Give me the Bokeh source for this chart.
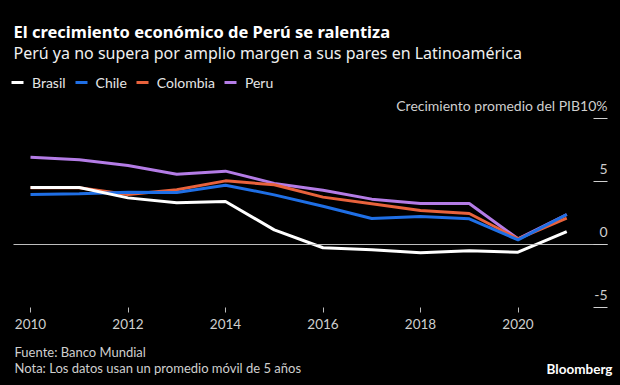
from bokeh.plotting import figure
from bokeh.models import (Range1d, FixedTicker, Label, Legend, LegendItem,
                          CustomJSTickFormatter, LinearAxis)
from bokeh.embed import file_html
from bokeh.resources import INLINE

# ---- data ----
years = [2010, 2011, 2012, 2013, 2014, 2015, 2016, 2017, 2018, 2019, 2020, 2021]
brasil = [4.52, 4.52, 3.70, 3.31, 3.41, 1.16, -0.26, -0.42, -0.66, -0.50, -0.61, 1.03]
chile = [3.97, 4.02, 4.15, 4.13, 4.71, 3.94, 3.04, 2.06, 2.22, 2.04, 0.37, 2.38]
colombia = [4.50, 4.50, 3.97, 4.34, 5.05, 4.74, 3.76, 3.23, 2.70, 2.46, 0.45, 2.09]
peru = [6.93, 6.72, 6.27, 5.58, 5.82, 4.85, 4.31, 3.60, 3.25, 3.25, 0.45, 2.38]

series_names = ["Brasil", "Chile", "Colombia", "Peru"]
series_values = [brasil, chile, colombia, peru]
series_colors = ["#ffffff", "#1f6fe5", "#e8623c", "#b47ce6"]

x_ticks = [2010, 2012, 2014, 2016, 2018, 2020]
y_ticks = [-5, 0, 5, 10]
y_tick_labels = ["-5", "0", "5", "10%"]

title = "El crecimiento económico de Perú se ralentiza"
subtitle = "Perú ya no supera por amplio margen a sus pares en Latinoamérica"
y_title = "Crecimiento promedio del PIB"
source_note = "Fuente: Banco Mundial"
note = "Nota: Los datos usan un promedio móvil de 5 años"
brand = "Bloomberg"

FONT = "Lato"
HEAD_FONT = "Noto Sans"
GRAY = "#cfcfcf"

# ---- geometry (pixels) ----
W, H = 620, 385
PX_PER_YEAR = 48.75
PX_PER_UNIT = 12.6
X0_PX, Y0_PX = 30.0, 244.0          # pixel of (2010, 0)
AX_LEFT_PX, AX_RIGHT_PX = 13.0, 607.0


def px_to_x(px):
    return years[0] + (px - X0_PX) / PX_PER_YEAR


def py_to_y(py):
    return (Y0_PX - py) / PX_PER_UNIT


x_left, x_right = px_to_x(AX_LEFT_PX), px_to_x(AX_RIGHT_PX)

p = figure(width=W, height=H, output_backend="svg", toolbar_location=None,
           x_range=Range1d(px_to_x(0), px_to_x(W)),
           y_range=Range1d(py_to_y(H), py_to_y(0)),
           x_axis_location=None, y_axis_location=None,
           min_border=0, min_border_left=0, min_border_right=0,
           min_border_top=0, min_border_bottom=0,
           background_fill_color="black", border_fill_color="black",
           outline_line_color=None)
p.grid.visible = False

# zero line (an axis line limited to the chart area)
zero_axis = LinearAxis(fixed_location=0, bounds=(x_left, x_right),
                       axis_line_color="#bdbdbd", axis_line_width=1,
                       major_tick_line_color=None, minor_tick_line_color=None,
                       major_label_text_font_size="0px",
                       ticker=FixedTicker(ticks=[]))
p.add_layout(zero_axis, "below")

# x axis at the -5 level
xa = LinearAxis(fixed_location=y_ticks[0], ticker=FixedTicker(ticks=x_ticks),
                axis_line_color=None, major_tick_in=0, major_tick_out=5,
                minor_tick_line_color=None, major_tick_line_color="#bbbbbb",
                major_label_text_color=GRAY, major_label_text_font=FONT,
                major_label_text_font_size="13.5px", major_label_standoff=6)
p.add_layout(xa, "below")

# y axis on the right: tick marks only; its labels are annotations
ya = LinearAxis(fixed_location=x_right, ticker=FixedTicker(ticks=y_ticks),
                axis_line_color=None, major_tick_in=14, major_tick_out=0,
                minor_tick_line_color=None, major_tick_line_color="#d0d0d0",
                major_label_standoff=0,
                formatter=CustomJSTickFormatter(code="return ''"))
p.add_layout(ya, "right")

for v, t in zip(y_ticks, y_tick_labels):
    txt = y_title + t if v == y_ticks[-1] else t
    p.add_layout(Label(x=x_right, y=v, y_offset=13,
                       text=txt, text_align="right", text_baseline="middle",
                       text_font=FONT, text_font_size="14px", text_color=GRAY))

# lines (Peru first, Brasil on top)
for name, vals, color in reversed(list(zip(series_names, series_values, series_colors))):
    p.line(years, vals, line_color=color, line_width=3)

items = []
for name, vals, color in zip(series_names, series_values, series_colors):
    r = p.scatter(years, vals, marker="dash", size=0, angle=0.9,
                  line_color=color, line_width=3)
    items.append(LegendItem(label=name, renderers=[r]))

legend = Legend(items=items, orientation="horizontal", location=(2, 288),
                glyph_width=30, glyph_height=30, label_standoff=-3, spacing=-2,
                padding=0, margin=0, background_fill_alpha=0, border_line_color=None,
                label_text_color="#e6e6e6", label_text_font=FONT,
                label_text_font_size="14px")
p.add_layout(legend)

# titles and footer (screen units from the bottom-left corner)
p.add_layout(Label(x=13, y=H - 31, x_units="screen", y_units="screen", text=title,
                   text_font=HEAD_FONT, text_font_style="bold", text_font_size="16.5px",
                   text_color="white", text_baseline="middle"))
p.add_layout(Label(x=13, y=H - 52, x_units="screen", y_units="screen", text=subtitle,
                   text_font=HEAD_FONT, text_font_size="16px",
                   text_color="#f0f0f0", text_baseline="middle"))
p.add_layout(Label(x=14, y=H - 351, x_units="screen", y_units="screen", text=source_note,
                   text_font=FONT, text_font_size="13px",
                   text_color=GRAY, text_baseline="middle"))
p.add_layout(Label(x=14, y=H - 367, x_units="screen", y_units="screen", text=note,
                   text_font=FONT, text_font_size="13px",
                   text_color=GRAY, text_baseline="middle"))
p.add_layout(Label(x=612, y=H - 368, x_units="screen", y_units="screen", text=brand,
                   text_font=FONT, text_font_style="bold", text_font_size="13.5px",
                   text_color="white", text_baseline="middle", text_align="right"))

html = file_html(p, INLINE)
html = html.replace("</head>", "<style>html,body{background:#000000;}</style></head>", 1)
open("out.html", "w").write(html)
